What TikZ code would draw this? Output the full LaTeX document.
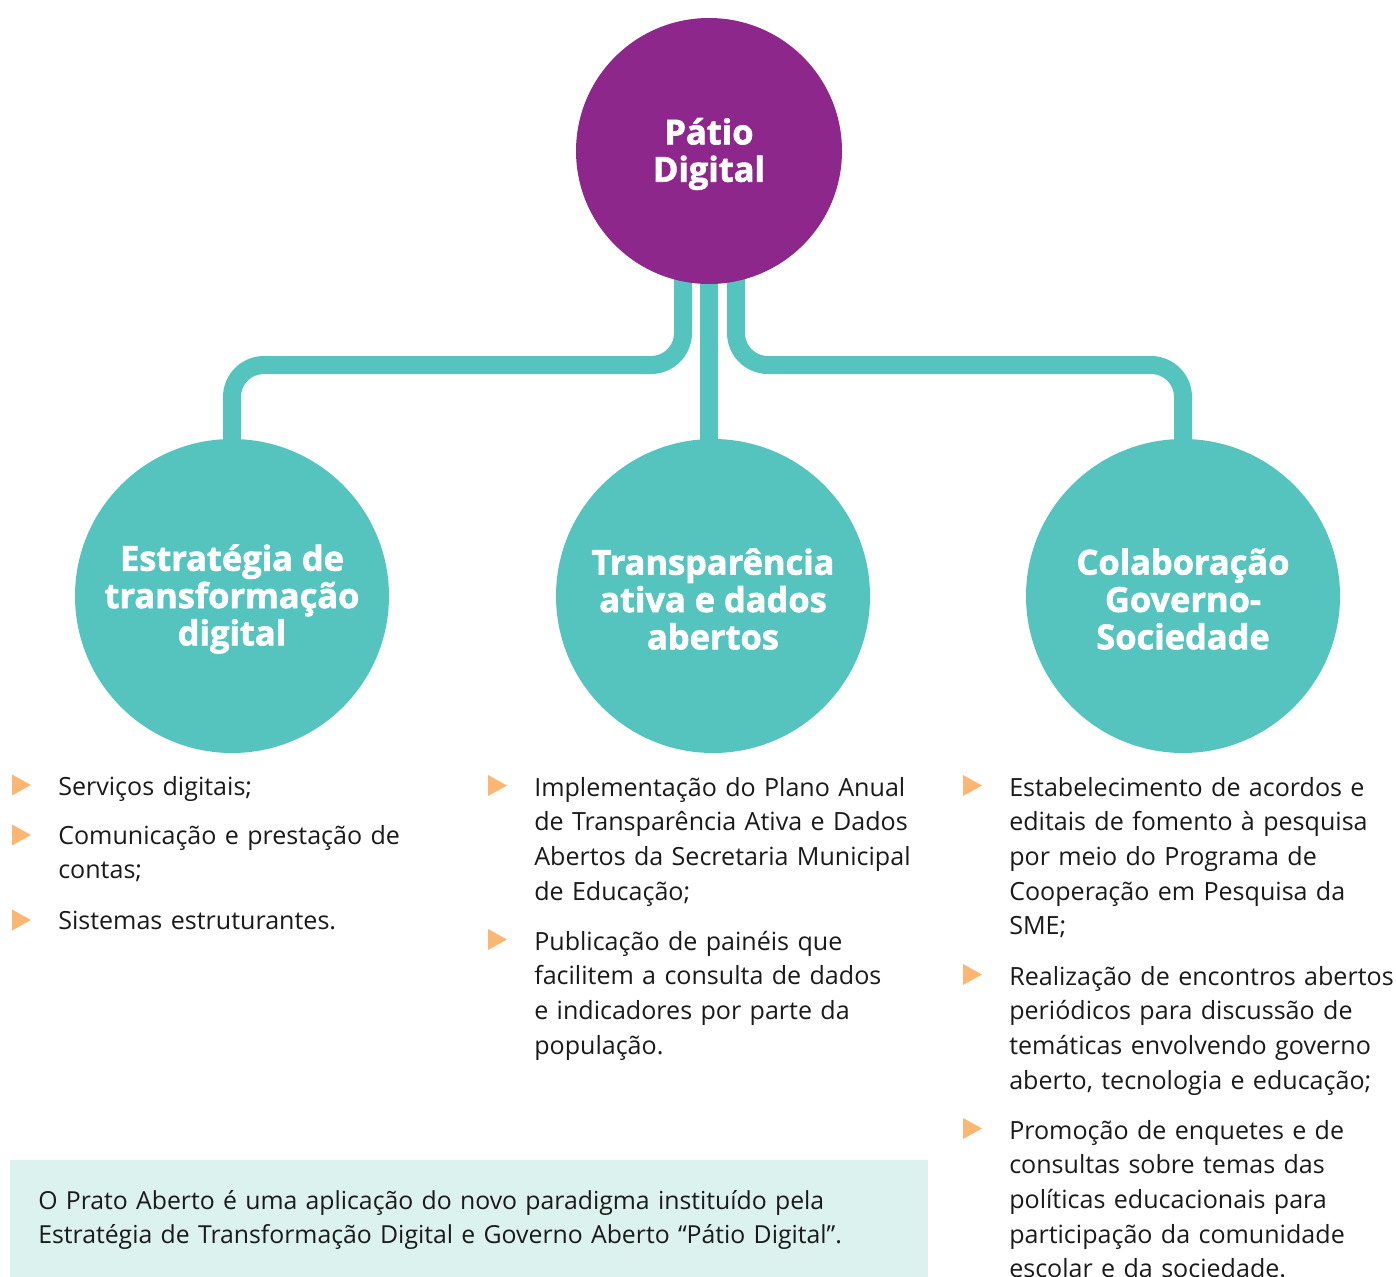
\documentclass[tikz,border=0pt]{standalone}
\usepackage{fontspec}
\setmainfont{Open Sans}
\newfontfamily\headfont{Open Sans Bold}[FakeBold=1.8]
\usetikzlibrary{calc,backgrounds}

\definecolor{hubpurple}{HTML}{8E278B}
\definecolor{teal}{HTML}{56C4BE}
\definecolor{tipor}{HTML}{FBB673}
\definecolor{notebg}{HTML}{DCF2EF}
\definecolor{ink}{HTML}{1A1A1A}

\begin{document}
\begin{tikzpicture}[x=0.75pt,y=-0.75pt,
  hub/.style={circle,fill=hubpurple,inner sep=0pt,minimum size=199.5pt},
  pillar/.style={circle,fill=teal,inner sep=0pt,minimum size=235.5pt},
  headtext/.style={text=white,inner sep=0pt,align=center,
    font=\headfont\fontsize{25.8pt}{28pt}\selectfont},
  link/.style={draw=teal,line width=13.5pt,rounded corners=24pt},
  item/.style={anchor=base west,inner sep=0pt,text width=330pt,align=left,
    text=ink,font=\fontsize{18.8pt}{26pt}\selectfont},
  tri/.pic={\fill[tipor] (0,-10.5) -- (19,0) -- (0,10.5) -- cycle;},
  notebox/.style={anchor=north west,fill=notebg,inner sep=0pt,
    minimum width=688.5pt,minimum height=100pt},
  notetext/.style={anchor=base west,inner sep=0pt,text width=660pt,
    align=left,text=ink,font=\fontsize{18.6pt}{25.5pt}\selectfont}]
\useasboundingbox (0,0) rectangle (1396,1277);

% central hub and the three pillars
\node[hub] (top) at (709,151) {};
\node[pillar] (c1) at (232,596) {};
\node[pillar] (c2) at (713,596) {};
\node[pillar] (c3) at (1183,596) {};

% their titles
\node[headtext] (top-t) at ($(top.center)+(0,3)$) {Pátio\\Digital};
\node[headtext] (c1-t) at ($(c1.center)+(0,3)$) {Estratégia de\\transformação\\digital};
\node[headtext] (c2-t) at ($(c2.center)+(0,3)$) {Transparência\\ativa e dados\\abertos};
\node[headtext] (c3-t) at ($(c3.center)+(0,3)$) {Colaboração\\Governo-\\Sociedade};

% branching connectors behind the circles
\coordinate (hbar) at (0,365);
\coordinate (l0) at ($(top.center)+(-26,0)$);
\coordinate (r0) at ($(top.center)+(27,0)$);
\begin{scope}[on background layer]
  \draw[link] (l0) -- (l0 |- hbar) -| (c1.center);
  \draw[link] (top.center) -- (top.center |- c2.center);
  \draw[link] (r0) -- (r0 |- hbar) -| (c3.center);
\end{scope}

% first column
\pic at (12,785) {tri};
\node[item] (a1) at (58,795) {Serviços digitais;};
\pic at (12,835) {tri};
\node[item] (a2) at (58,844) {Comunicação e prestação de\\contas;};
\pic at (12,920) {tri};
\node[item] (a3) at (58,929) {Sistemas estruturantes.};

% second column
\pic at (488,785.5) {tri};
\node[item] (b1) at (534,796) {Implementação do Plano Anual\\de Transparência Ativa e Dados\\Abertos da Secretaria Municipal\\de Educação;};
\pic at (488,939.5) {tri};
\node[item] (b2) at (534,950) {Publicação de painéis que\\facilitem a consulta de dados\\e indicadores por parte da\\população.};

% third column
\pic at (963,785.5) {tri};
\node[item] (d1) at (1009,796) {Estabelecimento de acordos e\\editais de fomento à pesquisa\\por meio do Programa de\\Cooperação em Pesquisa da\\SME;};
\pic at (963,974.5) {tri};
\node[item] (d2) at (1009,985) {Realização de encontros abertos\\periódicos para discussão de\\temáticas envolvendo governo\\aberto, tecnologia e educação;};
\pic at (963,1128.5) {tri};
\node[item] (d3) at (1009,1139) {Promoção de enquetes e de\\consultas sobre temas das\\políticas educacionais para\\participação da comunidade\\escolar e da sociedade.};

% note panel
\node[notebox] (note) at (10,1160) {};
\node[notetext] (notetxt) at (38,1209) {O Prato Aberto é uma aplicação do novo paradigma instituído pela\\Estratégia de Transformação Digital e Governo Aberto “Pátio Digital”.};
\end{tikzpicture}
\end{document}
